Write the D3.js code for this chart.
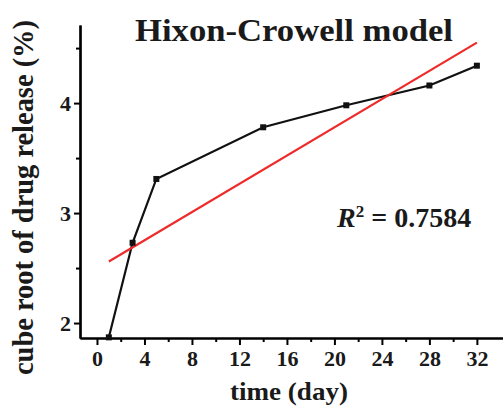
<!DOCTYPE html>
<html><head><meta charset="utf-8">
<script src="https://cdn.jsdelivr.net/npm/d3@7"></script>
<style>body{margin:0;background:#fff}svg{display:block}text{font-family:"Liberation Serif","Times New Roman",serif;font-weight:bold}</style>
</head><body>
<script>
const days = [1, 3, 5, 14, 21, 28, 32];
const cubeRoot = [1.87, 2.73, 3.31, 3.78, 3.98, 4.16, 4.34];
const fitDays = [1, 32];
const fitValues = [2.56, 4.55];
const xTicks = [0, 4, 8, 12, 16, 20, 24, 28, 32];
const yTicks = [2, 3, 4];
const title = "Hixon-Crowell model";
const xLabel = "time (day)";
const yLabel = "cube root of drug release (%)";
const r2 = "0.7584";

const W = 503, H = 408;
const svg = d3.select("body").append("svg").attr("width", W).attr("height", H);
const x = d3.scaleLinear().domain([-1.43, 34.2]).range([80, 503]);
const y = d3.scaleLinear().domain([1.864, 4.71]).range([338, 25]);

const xAxis = svg.append("g").attr("transform", "translate(0,338)")
  .call(d3.axisBottom(x).tickValues(xTicks).tickSize(7).tickPadding(5).tickSizeOuter(0));
const xMinor = svg.append("g").attr("transform", "translate(0,338)")
  .call(d3.axisBottom(x).tickValues(d3.range(2, 34, 4)).tickSize(4).tickFormat("").tickSizeOuter(0));
const yAxis = svg.append("g").attr("transform", "translate(80,0)")
  .call(d3.axisLeft(y).tickValues(yTicks).tickFormat(d3.format("d")).tickSize(6).tickPadding(3).tickSizeOuter(0));
const yMinor = svg.append("g").attr("transform", "translate(80,0)")
  .call(d3.axisLeft(y).tickValues([2.5, 3.5, 4.5]).tickSize(4).tickFormat("").tickSizeOuter(0));
[xAxis, xMinor, yAxis, yMinor].forEach(g => {
  g.select(".domain").attr("stroke", "#000").attr("stroke-width", 2.2);
  g.selectAll(".tick line").attr("stroke", "#000").attr("stroke-width", 2);
  g.selectAll(".tick text").attr("fill", "#1a1a1a").style("font-size", "22px").style("font-family", "Liberation Serif").style("font-weight", "bold");
});

const pts = days.map((d, i) => [d, cubeRoot[i]]);
const fitPts = fitDays.map((d, i) => [d, fitValues[i]]);
const line = d3.line().x(d => x(d[0])).y(d => y(d[1]));
svg.append("path").attr("d", line(pts)).attr("fill", "none").attr("stroke", "#111").attr("stroke-width", 2.2);
svg.append("path").attr("d", line(fitPts)).attr("fill", "none").attr("stroke", "#ee2a2a").attr("stroke-width", 2.2);
svg.selectAll("rect.pt").data(pts).enter().append("rect").attr("class", "pt")
  .attr("x", d => x(d[0]) - 3).attr("y", d => y(d[1]) - 3).attr("width", 6).attr("height", 6).attr("fill", "#111");

svg.append("text").attr("x", 135).attr("y", 41).style("font-size", "31px").attr("fill", "#1a1a1a")
  .attr("textLength", 318).attr("lengthAdjust", "spacingAndGlyphs").text(title);
svg.append("text").attr("x", 230).attr("y", 400).style("font-size", "25px").attr("fill", "#1a1a1a")
  .attr("textLength", 118).attr("lengthAdjust", "spacingAndGlyphs").text(xLabel);
svg.append("text").attr("transform", "translate(33,375) rotate(-90)").style("font-size", "29px").attr("fill", "#1a1a1a")
  .attr("textLength", 355).attr("lengthAdjust", "spacingAndGlyphs").text(yLabel);
const t = svg.append("text").attr("x", 337).attr("y", 227).style("font-size", "28px").attr("fill", "#1a1a1a");
t.append("tspan").style("font-style", "italic").text("R");
t.append("tspan").attr("dy", -10).style("font-size", "17px").text("2");
t.append("tspan").attr("dy", 10).text(" = " + r2);
</script>
</body></html>
